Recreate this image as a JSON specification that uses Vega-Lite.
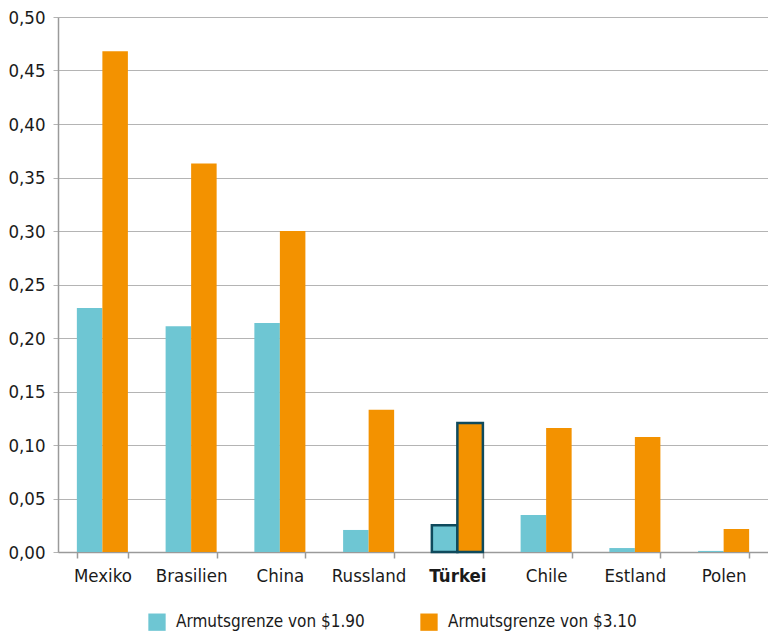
{
  "$schema": "https://vega.github.io/schema/vega-lite/v6.json",
  "width": 710,
  "height": 535,
  "autosize": {"type": "none"},
  "padding": {"left": 58, "top": 17, "right": 0, "bottom": 81},
  "background": "white",
  "config": {
    "font": "'DejaVu Sans Condensed', Roboto, sans-serif",
    "view": {"stroke": null}
  },
  "data": {
    "values": [
      {"Land": "Mexiko", "Serie": "Armutsgrenze von $1.90", "Wert": 0.228},
      {"Land": "Mexiko", "Serie": "Armutsgrenze von $3.10", "Wert": 0.468},
      {"Land": "Brasilien", "Serie": "Armutsgrenze von $1.90", "Wert": 0.211},
      {"Land": "Brasilien", "Serie": "Armutsgrenze von $3.10", "Wert": 0.363},
      {"Land": "China", "Serie": "Armutsgrenze von $1.90", "Wert": 0.214},
      {"Land": "China", "Serie": "Armutsgrenze von $3.10", "Wert": 0.300},
      {"Land": "Russland", "Serie": "Armutsgrenze von $1.90", "Wert": 0.0206},
      {"Land": "Russland", "Serie": "Armutsgrenze von $3.10", "Wert": 0.133},
      {"Land": "Türkei", "Serie": "Armutsgrenze von $1.90", "Wert": 0.025},
      {"Land": "Türkei", "Serie": "Armutsgrenze von $3.10", "Wert": 0.1206},
      {"Land": "Chile", "Serie": "Armutsgrenze von $1.90", "Wert": 0.0346},
      {"Land": "Chile", "Serie": "Armutsgrenze von $3.10", "Wert": 0.116},
      {"Land": "Estland", "Serie": "Armutsgrenze von $1.90", "Wert": 0.0037},
      {"Land": "Estland", "Serie": "Armutsgrenze von $3.10", "Wert": 0.1075},
      {"Land": "Polen", "Serie": "Armutsgrenze von $1.90", "Wert": 0.001},
      {"Land": "Polen", "Serie": "Armutsgrenze von $3.10", "Wert": 0.0215}
    ]
  },
  "mark": {"type": "bar", "stroke": "#0f4a5c", "strokeJoin": "miter"},
  "encoding": {
    "x": {
      "field": "Land",
      "type": "nominal",
      "sort": null,
      "scale": {"paddingInner": 0.425, "paddingOuter": 0.2125},
      "axis": {
        "title": null,
        "labelAngle": 0,
        "labelFontSize": 18.5,
        "labelColor": "#1a1a1a",
        "labelPadding": 8,
        "labelFontWeight": {"condition": {"test": "datum.value === 'Türkei'", "value": "bold"}, "value": "normal"},
        "domainColor": "#9a9a9a",
        "domainWidth": 1.5,
        "tickColor": "#9a9a9a",
        "tickSize": 6,
        "tickWidth": 1.5,
        "tickBand": "extent",
        "grid": false
      }
    },
    "xOffset": {"field": "Serie", "type": "nominal"},
    "y": {
      "field": "Wert",
      "type": "quantitative",
      "scale": {"domain": [0, 0.5], "nice": false},
      "axis": {
        "title": null,
        "values": [0, 0.05, 0.1, 0.15, 0.2, 0.25, 0.3, 0.35, 0.4, 0.45, 0.5],
        "labelExpr": "replace(format(datum.value, '.2f'), '.', ',')",
        "labelFontSize": 18.5,
        "labelColor": "#1a1a1a",
        "labelPadding": 8,
        "domain": true,
        "domainColor": "#9a9a9a",
        "domainWidth": 1.5,
        "tickColor": "#b4b4b4",
        "tickSize": 5,
        "grid": true,
        "gridColor": "#b4b4b4",
        "gridWidth": 1.2
      }
    },
    "color": {
      "field": "Serie",
      "type": "nominal",
      "scale": {"range": ["#6ec6d3", "#f39200"]},
      "legend": {
        "title": null,
        "orient": "none",
        "direction": "horizontal",
        "legendX": 90,
        "legendY": 596,
        "symbolType": "square",
        "symbolSize": 300,
        "symbolStrokeWidth": 0,
        "symbolOpacity": 1,
        "labelFontSize": 17,
        "labelColor": "#1a1a1a",
        "labelOffset": 10,
        "columnPadding": 55,
        "labelLimit": 300
      }
    },
    "strokeWidth": {
      "condition": {"test": "datum.Land === 'Türkei'", "value": 2.5},
      "value": 0
    }
  }
}
